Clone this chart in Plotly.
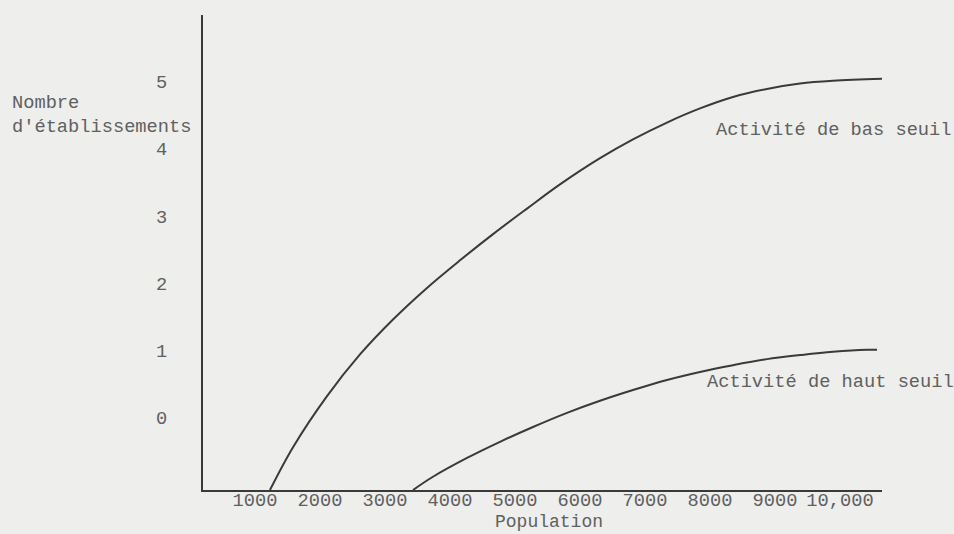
import plotly.graph_objects as go

# Activité de bas seuil (upper curve)
bas_pop = [1230, 1585, 2108, 2615, 3123, 3646, 4154, 4662, 5185, 5692,
           6308, 6815, 7338, 7846, 8354, 8877, 9385, 9892, 10646]
bas_n = [-1.077, -0.44, 0.32, 0.94, 1.46, 1.93, 2.34, 2.73, 3.11, 3.47,
         3.86, 4.14, 4.39, 4.60, 4.77, 4.89, 4.97, 5.01, 5.04]

# Activité de haut seuil (lower curve)
haut_pop = [3431, 3738, 4262, 4769, 5277, 5800, 6308, 6815, 7338, 7846,
            8354, 8877, 9385, 9892, 10415, 10569]
haut_n = [-1.077, -0.88, -0.60, -0.36, -0.14, 0.07, 0.25, 0.41, 0.56, 0.68,
          0.78, 0.87, 0.93, 0.98, 1.01, 1.01]

x_ticks = [1000, 2000, 3000, 4000, 5000, 6000, 7000, 8000, 9000, 10000]
x_ticktext = ["1000", "2000", "3000", "4000", "5000", "6000", "7000", "8000", "9000", "10,000"]
y_ticks = [0, 1, 2, 3, 4, 5]

BG = "#eeeeec"
INK = "#3a3a3a"
TXT = "#606060"
FONT = "Liberation Mono, DejaVu Sans Mono, monospace"

fig = go.Figure()
fig.add_trace(go.Scatter(
    x=bas_pop, y=bas_n, mode="lines",
    line=dict(color=INK, width=2, shape="spline", smoothing=1),
    name="Activité de bas seuil", showlegend=False, hoverinfo="skip",
))
fig.add_trace(go.Scatter(
    x=haut_pop, y=haut_n, mode="lines",
    line=dict(color=INK, width=2, shape="spline", smoothing=1),
    name="Activité de haut seuil", showlegend=False, hoverinfo="skip",
))

fig.add_annotation(x=8062, y=4.28, xref="x", yref="y", text="Activité de bas seuil",
                   showarrow=False, xanchor="left", yanchor="middle",
                   font=dict(size=18.7, color=TXT, family=FONT))
fig.add_annotation(x=7923, y=0.53, xref="x", yref="y", text="Activité de haut seuil",
                   showarrow=False, xanchor="left", yanchor="middle",
                   font=dict(size=18.7, color=TXT, family=FONT))
fig.add_annotation(x=-0.284, y=0.789, xref="paper", yref="paper",
                   text="Nombre<br>d'établissements", align="left",
                   showarrow=False, xanchor="left", yanchor="middle",
                   font=dict(size=18.7, color=TXT, family=FONT))
# x axis title, placed by hand just under the tick labels
fig.add_annotation(x=0.5096, y=-0.0674, xref="paper", yref="paper",
                   text="Population", showarrow=False,
                   xanchor="center", yanchor="middle",
                   font=dict(size=18, color=TXT, family=FONT))

fig.update_layout(
    width=954, height=534,
    margin=dict(l=203, r=72, t=15, b=44),
    paper_bgcolor=BG, plot_bgcolor=BG,
    font=dict(family=FONT, size=18.7, color=TXT),
    xaxis=dict(
        range=[200, 10646], tickvals=x_ticks, ticktext=x_ticktext,
        showgrid=False, zeroline=False, showline=True, linecolor=INK, linewidth=2,
        ticks="", ticklabelstandoff=-8, automargin=False,
    ),
    yaxis=dict(
        range=[-1.077, 5.99], tickvals=y_ticks,
        showgrid=False, zeroline=False, showline=True, linecolor=INK, linewidth=2,
        ticks="", ticklabelstandoff=30, automargin=False,
    ),
)

fig.write_html("out.html", config={"displayModeBar": False},
               post_script="document.body.style.margin='0';")
